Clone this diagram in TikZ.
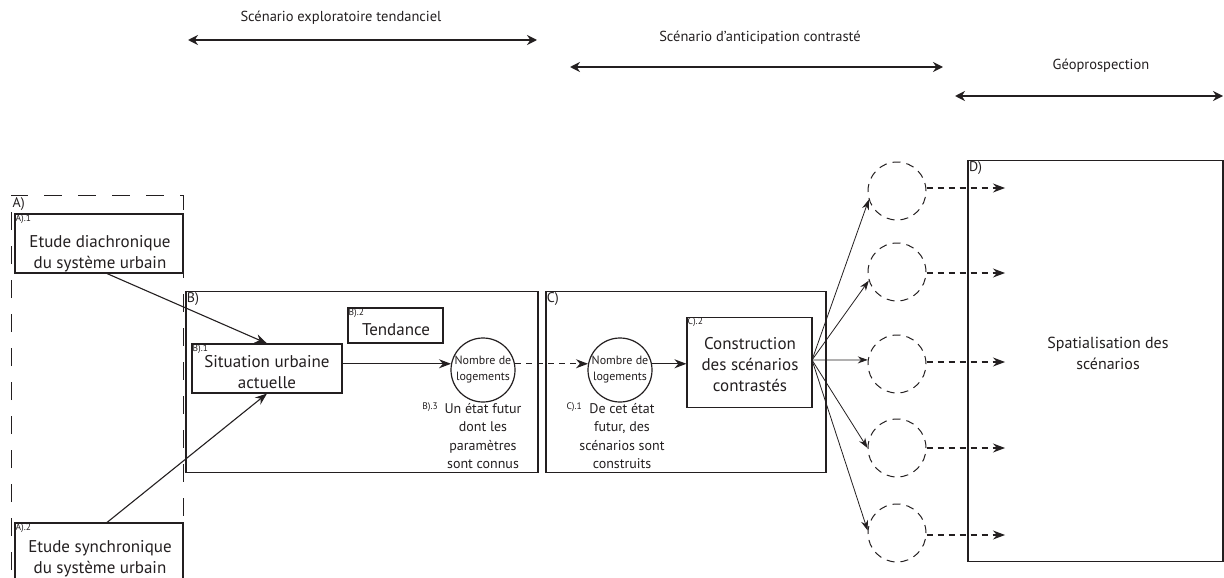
\documentclass[tikz,border=0pt]{standalone}
\usepackage{fontspec}
\setmainfont{PT Sans}
\usetikzlibrary{arrows.meta}
\definecolor{ink}{RGB}{35,31,32}
\begin{document}
\begin{tikzpicture}[x=1pt,y=-1pt,
  every node/.style={text=ink},
  box/.style={draw=ink, line width=1.1pt, inner sep=0pt},
  frame/.style={draw=ink, line width=1.6pt, inner sep=0pt},
  txt/.style={font=\fontsize{17}{21}\selectfont, align=center, inner sep=0pt},
  small/.style={font=\fontsize{14}{18.5}\selectfont, align=center, inner sep=0pt},
  tag/.style={font=\fontsize{9.5}{10}\selectfont, anchor=north west, inner sep=1pt},
  lbl/.style={font=\fontsize{14}{15}\selectfont, anchor=north west, inner sep=1.5pt},
  hdr/.style={font=\fontsize{14.5}{16}\selectfont, inner sep=0pt},
  circ/.style={circle, draw=ink, line width=1.2pt, minimum size=64pt, inner sep=0pt, font=\fontsize{12}{16}\selectfont, align=center},
  dcirc/.style={circle, draw=ink, line width=1pt, dash pattern=on 8pt off 6pt, minimum size=58pt, inner sep=0pt},
  arr/.style={draw=ink, line width=1.1pt, -{Stealth[length=12pt,width=9pt]}},
  farr/.style={draw=ink, line width=0.8pt, -{Stealth[length=10pt,width=7pt]}},
  darr/.style={draw=ink, line width=1.1pt, dash pattern=on 6pt off 5pt, -{Stealth[length=12pt,width=9pt]}},
  harr/.style={draw=ink, line width=2pt, {Stealth[length=10pt,width=10pt]}-{Stealth[length=10pt,width=10pt]}}
]
\clip (0,0) rectangle (1224,578);

% header arrows
\coordinate (h1a) at (188,40); \coordinate (h1b) at (537,40);
\coordinate (h2a) at (570,67); \coordinate (h2b) at (943,67);
\coordinate (h3a) at (955,96); \coordinate (h3b) at (1223,96);
\draw[harr] (h1a) -- (h1b);
\draw[harr] (h2a) -- (h2b);
\draw[harr] (h3a) -- (h3b);
\node[hdr] (t1) at (341,18) {Scénario exploratoire tendanciel};
\node[hdr] (t2) at (760,38) {Scénario d’anticipation contrasté};
\node[hdr] (t3) at (1101,66) {Géoprospection};

% A dashed frame
\draw[draw=ink, line width=1pt, dash pattern=on 18pt off 16pt, dash phase=4pt]
  (11,600) -- (11,195) -- (183,195) -- (183,600);
\node[lbl] (la) at (11,196) {A)};
\node[box, minimum width=168pt, minimum height=59pt] (a1) at (99,243.5) {};
\node[tag] (a1g) at (a1.north west) {A).1};
\node[txt] (a1t) at (100,254) {Etude diachronique\\du système urbain};
\node[box, minimum width=168pt, minimum height=59pt] (a2) at (99,552.5) {};
\node[tag] (a2g) at (a2.north west) {A).2};
\node[txt] (a2t) at (100,559) {Etude synchronique\\du système urbain};

% B frame
\node[frame, minimum width=352pt, minimum height=181pt] (bf) at (362,382) {};
\node[lbl] (lb) at (bf.north west) {B)};
\node[box, minimum width=150pt, minimum height=49pt] (b1) at (267,368.5) {};
\node[tag] (b1g) at (b1.north west) {B).1};
\node[txt] (b1t) at (267,372) {Situation urbaine\\actuelle};
\node[box, minimum width=95pt, minimum height=35pt] (b2) at (395.5,325.5) {};
\node[tag] (b2g) at (b2.north west) {B).2};
\node[txt] (b2t) at (396,330) {Tendance};
\node[circ] (cb) at (483,370) {Nombre de\\logements};
\node[small] (b3t) at (483,436) {Un état futur\\dont les\\paramètres\\sont connus};
\node[font=\fontsize{9.5}{10}\selectfont, inner sep=0pt, anchor=east] (b3g) at (438,407) {B).3};

% C frame
\node[frame, minimum width=280pt, minimum height=181pt] (cf) at (686,382) {};
\node[lbl] (lc) at (cf.north west) {C)};
\node[circ] (cc) at (620,370) {Nombre de\\logements};
\node[box, minimum width=125pt, minimum height=90pt] (c2) at (749.5,362.5) {};
\node[tag] (c2g) at (c2.north west) {C).2};
\node[txt] (c2t) at (750,365) {Construction\\des scénarios\\contrastés};
\node[small] (c1t) at (622,436) {De cet état\\futur, des\\scénarios sont\\construits};
\node[font=\fontsize{9.5}{10}\selectfont, inner sep=0pt, anchor=east] (c1g) at (582,407) {C).1};

% D frame
\node[box, line width=1.3pt, minimum width=255pt, minimum height=401pt] (df) at (1095.5,361) {};
\node[lbl] (ld) at (df.north west) {D)};
\node[font=\fontsize{16}{21}\selectfont, align=center, inner sep=0pt] (dt) at (1108,353) {Spatialisation des\\scénarios};

% dashed circles
\node[dcirc] (d1) at (897,191) {};
\node[dcirc] (d2) at (897,272) {};
\node[dcirc] (d3) at (897,364) {};
\node[dcirc] (d4) at (897,448) {};
\node[dcirc] (d5) at (897,533) {};
\coordinate (e1) at (1005,188);
\coordinate (e2) at (1005,273);
\coordinate (e3) at (1005,362);
\coordinate (e4) at (1005,448);
\coordinate (e5) at (1005,535);

% connectors
\draw[arr] ([xshift=8pt]a1.south) -- (b1.north);
\draw[arr] ([xshift=8pt]a2.north) -- (b1.south);
\draw[arr] (b1.east |- cb.169) -- (cb.169);
\draw[darr] (cb.11) -- (cc.169);
\draw[arr] (cc.11) -- (c2.west |- cc.11);
\coordinate (fan) at (812,360);
\draw[farr] (fan) -- (d1.197);
\draw[farr] (fan) -- (d2.197);
\draw[farr] (fan) -- (d3.172);
\draw[farr] (fan) -- (d4.180);
\draw[farr] (fan) -- (d5.175);
\draw[darr] (d1.east |- e1) -- (e1);
\draw[darr] (d2.east |- e2) -- (e2);
\draw[darr] (d3.east |- e3) -- (e3);
\draw[darr] (d4.east |- e4) -- (e4);
\draw[darr] (d5.east |- e5) -- (e5);
\end{tikzpicture}
\end{document}
